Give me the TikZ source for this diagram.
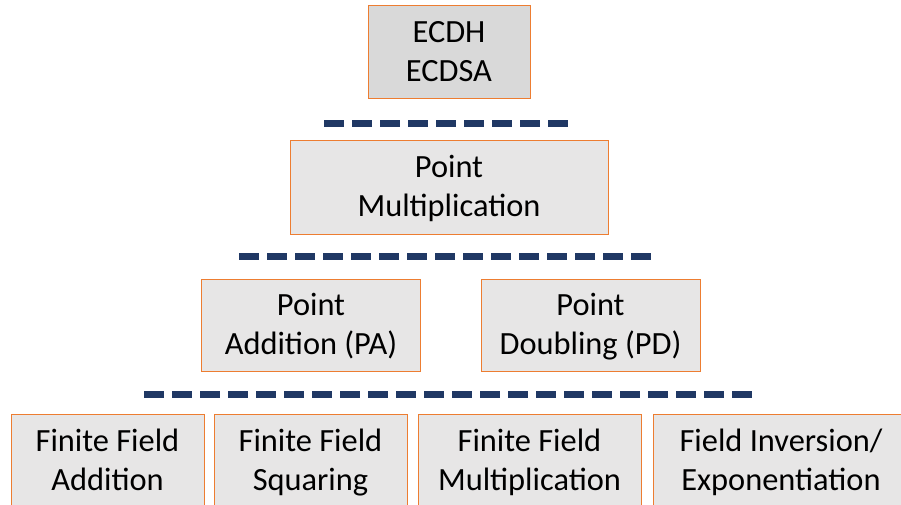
\documentclass[tikz,border=0pt]{standalone}
\usepackage{fontspec}
\setmainfont{Carlito}
\definecolor{boxorange}{HTML}{ED7D31}
\definecolor{topfill}{HTML}{D9D9D9}
\definecolor{boxfill}{HTML}{E7E6E6}
\definecolor{navy}{HTML}{203864}
\newcommand{\twolines}[2]{\rule{0pt}{32pt}#1\\#2\rule[-11.7pt]{0pt}{11.7pt}}
\begin{document}
\begin{tikzpicture}[x=1pt,y=-1pt,
  blk/.style={draw=boxorange,line width=0.9pt,fill=boxfill,inner sep=0pt,align=center,
    font=\fontsize{32.4}{39}\selectfont},
  sep/.style={draw=navy,line width=7pt,dash pattern=on 20pt off 8pt}]
\useasboundingbox (0,0) rectangle (901,504);
\clip (0,0) rectangle (901,504);
% boxes
\node[blk,fill=topfill,minimum width=162pt,minimum height=93pt] (top) at (449,51.5) {\twolines{ECDH}{ECDSA}};
\node[blk,minimum width=318pt,minimum height=94pt] (pm) at (449,187) {\twolines{Point}{Multiplication}};
\node[blk,minimum width=219pt,minimum height=92pt] (pa) at (311,325) {\twolines{Point}{Addition (PA)}};
\node[blk,minimum width=219pt,minimum height=92pt] (pd) at (590.5,325) {\twolines{Point}{Doubling (PD)}};
\node[blk,minimum width=193pt,minimum height=94pt] (ffa) at (107.5,461) {\twolines{Finite Field}{Addition}};
\node[blk,minimum width=193pt,minimum height=94pt] (ffs) at (310.5,461) {\twolines{Finite Field}{Squaring}};
\node[blk,minimum width=223pt,minimum height=94pt] (ffm) at (529.5,461) {\twolines{Finite Field}{Multiplication}};
\node[blk,minimum width=256pt,minimum height=94pt] (ffi) at (781,461) {\twolines{Field Inversion/}{Exponentiation}};
% separators
\coordinate (s1a) at (324,123);
\coordinate (s1b) at (568,123);
\coordinate (s2a) at (239,256);
\coordinate (s2b) at (651,256);
\coordinate (s3a) at (144,394);
\coordinate (s3b) at (752,394);
\draw[sep] (s1a) -- (s1b);
\draw[sep] (s2a) -- (s2b);
\draw[sep] (s3a) -- (s3b);
\end{tikzpicture}
\end{document}
